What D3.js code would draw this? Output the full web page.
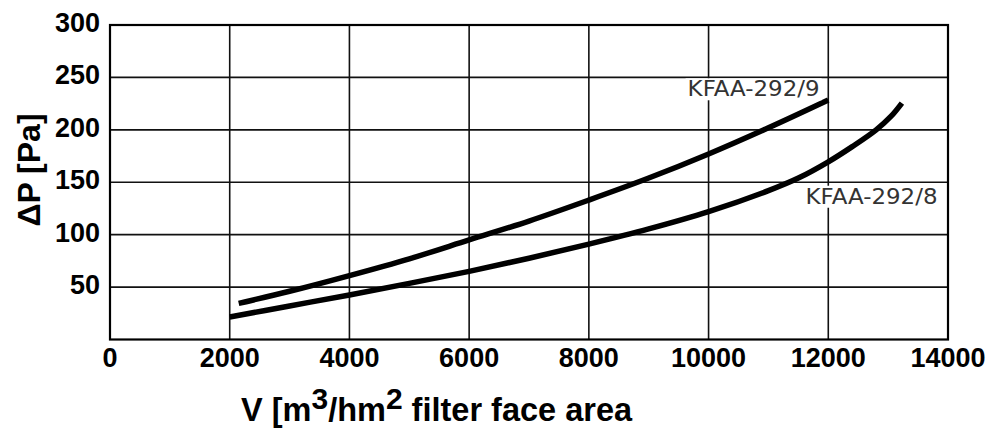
<!DOCTYPE html>
<html>
<head>
<meta charset="utf-8">
<script src="https://cdn.jsdelivr.net/npm/d3@7"></script>
<style>
  body { margin: 0; background: #fff; }
  text { font-family: "Liberation Sans", Arial, sans-serif; }
</style>
</head>
<body>
<script>
/*
 * Data
 */
const xTicks = [0, 2000, 4000, 6000, 8000, 10000, 12000, 14000];
const yTicks = [50, 100, 150, 200, 250, 300];

const v9 = [2150, 3000, 4000, 5000, 6000, 7000, 8000, 9000, 10000, 11000, 12000];
const dp9 = [34.5, 46, 61, 77, 95, 113, 133, 154, 177, 202, 228.5];

const v8 = [2000, 3000, 4000, 5000, 6000, 7000, 8000, 9000, 10000, 11000, 11500, 12000, 12400, 12800, 13050, 13230];
const dp8 = [21.5, 32, 42.5, 53.5, 65, 77.5, 91, 105.5, 122, 142, 154, 169.5, 184, 200, 213, 225.5];

const seriesNames = ["KFAA-292/9", "KFAA-292/8"];
// label anchor (left x value, baseline y value)
const labelAt = [[9650, 232], [11620, 129.5]];

/*
 * Layout
 */
const svgWidth = 992, svgHeight = 428;
const margin = { top: 25, left: 110, right: 44, bottom: 88.5 };
const width = svgWidth - margin.left - margin.right,
  height = svgHeight - margin.top - margin.bottom;

const xScale = d3.scaleLinear().domain([0, 14000]).range([0, width]);
const yScale = d3.scaleLinear().domain([0, 300]).range([height, 0]);

const svg = d3.select('body').append('svg')
  .attr('width', svgWidth)
  .attr('height', svgHeight);

const g = svg.append('g')
  .attr('transform', `translate(${margin.left},${margin.top})`);

// grid
g.append('g').selectAll('line').data(xTicks.slice(1, -1)).enter().append('line')
  .attr('x1', d => xScale(d)).attr('x2', d => xScale(d))
  .attr('y1', 0).attr('y2', height)
  .attr('stroke', '#111').attr('stroke-width', 1.6);

g.append('g').selectAll('line').data(yTicks.slice(0, -1)).enter().append('line')
  .attr('x1', 0).attr('x2', width)
  .attr('y1', d => yScale(d)).attr('y2', d => yScale(d))
  .attr('stroke', '#111').attr('stroke-width', 1.6);

// frame
g.append('rect')
  .attr('width', width).attr('height', height)
  .attr('fill', 'none').attr('stroke', '#000').attr('stroke-width', 2.2);

// tick labels
g.append('g').selectAll('text').data(xTicks).enter().append('text')
  .attr('x', d => xScale(d))
  .attr('y', height + 27)
  .attr('text-anchor', 'middle')
  .style('font-size', '27px').style('font-weight', 'bold')
  .text(d => d);

g.append('g').selectAll('text').data(yTicks).enter().append('text')
  .attr('x', -10)
  .attr('y', d => yScale(d) + 7)
  .attr('text-anchor', 'end')
  .style('font-size', '27px').style('font-weight', 'bold')
  .text(d => d);

// curves
const line = d3.line()
  .x(d => xScale(d[0]))
  .y(d => yScale(d[1]))
  .curve(d3.curveCatmullRom.alpha(0.5));

const series = [v9.map((v, i) => [v, dp9[i]]), v8.map((v, i) => [v, dp8[i]])];

g.append('g').selectAll('path').data(series).enter().append('path')
  .attr('d', line)
  .attr('fill', 'none')
  .attr('stroke', '#000')
  .attr('stroke-width', 5.5);

// series labels with white box behind
labelAt.forEach((p, i) => {
  const x = xScale(p[0]), y = yScale(p[1]);
  g.append('rect')
    .attr('x', x - 2).attr('y', y - 18)
    .attr('width', 136).attr('height', 22)
    .attr('fill', '#fff');
  g.append('text')
    .attr('x', x).attr('y', y)
    .attr('textLength', 132)
    .attr('lengthAdjust', 'spacingAndGlyphs')
    .style('font-family', '"DejaVu Sans", sans-serif')
    .style('font-size', '20.5px')
    .attr('fill', '#333')
    .text(seriesNames[i]);
});

// axis titles
svg.append('text')
  .attr('transform', 'translate(40,170) rotate(-90)')
  .attr('text-anchor', 'middle')
  .style('font-size', '32px').style('font-weight', 'bold')
  .text('ΔP [Pa]');

const xt = svg.append('text')
  .attr('x', 241).attr('y', 421)
  .style('font-size', '32.5px').style('font-weight', 'bold');
xt.append('tspan').text('V [m');
xt.append('tspan').attr('dy', -12).style('font-size', '30px').text('3');
xt.append('tspan').attr('dy', 12).text('/hm');
xt.append('tspan').attr('dy', -12).style('font-size', '30px').text('2');
xt.append('tspan').attr('dy', 12).text(' filter face area');
</script>
</body>
</html>
